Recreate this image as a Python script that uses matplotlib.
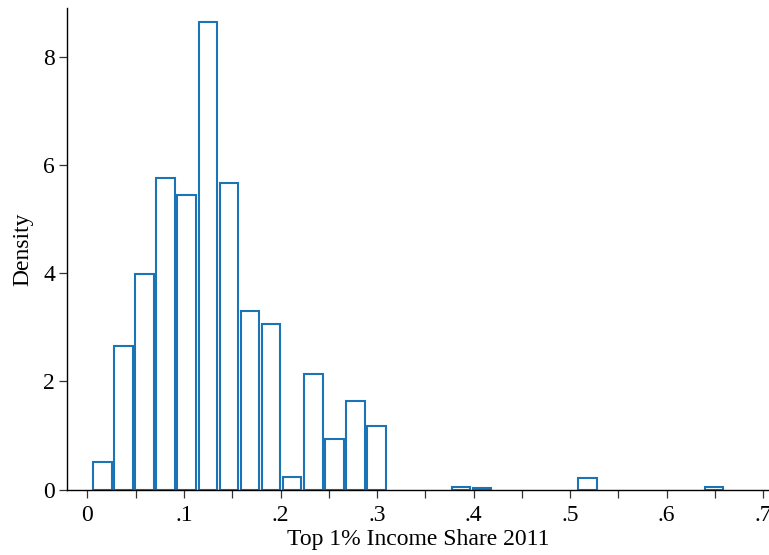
import matplotlib
matplotlib.use("Agg")
import matplotlib.pyplot as plt
from matplotlib.ticker import FixedLocator

# Histogram of top 1% income share, 2011 (density scale)
bin_start = 0.0045
bin_width = 0.02185
density = [0.505, 2.654, 3.99, 5.76, 5.45, 8.65, 5.675, 3.31, 3.06, 0.231,
           2.14, 0.94, 1.64, 1.17, 0.0, 0.0, 0.0, 0.04, 0.02, 0.0,
           0.0, 0.0, 0.0, 0.218, 0.0, 0.0, 0.0, 0.0, 0.0, 0.04]

x_ticks = [0, 0.1, 0.2, 0.3, 0.4, 0.5, 0.6, 0.7]
x_tick_labels = ["0", ".1", ".2", ".3", ".4", ".5", ".6", ".7"]
x_minor_ticks = [0.05, 0.15, 0.25, 0.35, 0.45, 0.55, 0.65]
y_ticks = [0, 2, 4, 6, 8]
y_tick_labels = ["0", "2", "4", "6", "8"]
x_title = "Top 1% Income Share 2011"
y_title = "Density"

plt.rcParams["font.family"] = ["Liberation Serif", "DejaVu Serif"]

fig = plt.figure(figsize=(7.69, 5.55), dpi=100)
ax = fig.add_axes([0.0871, 0.118, 0.9129, 0.8676])

bar_color = "#1a74b6"
centers = [bin_start + (k + 0.5) * bin_width for k in range(len(density))]
for c, h in zip(centers, density):
    if h > 0:
        ax.bar(c, h, width=bin_width * 0.88, align="center",
               facecolor="white", edgecolor=bar_color, linewidth=1.5,
               zorder=2)

ax.set_xlim(-0.0212, 0.706)
ax.set_ylim(0, 8.907)

for side in ("top", "right"):
    ax.spines[side].set_visible(False)
for side in ("left", "bottom"):
    ax.spines[side].set_linewidth(1.0)
    ax.spines[side].set_color("black")
    ax.spines[side].set_zorder(3)

ax.set_xticks(x_ticks)
ax.set_xticklabels(x_tick_labels)
ax.xaxis.set_minor_locator(FixedLocator(x_minor_ticks))
ax.set_yticks(y_ticks)
ax.set_yticklabels(y_tick_labels)

ax.tick_params(axis="both", which="both", direction="out", length=5.5,
               width=0.9, color="#333333", labelsize=17, pad=3)
ax.tick_params(axis="x", which="major", pad=5.5)

ax.set_xlabel(x_title, fontsize=17, labelpad=2)
ax.set_ylabel(y_title, fontsize=17, labelpad=7)

fig.savefig("out.png", dpi=100)
